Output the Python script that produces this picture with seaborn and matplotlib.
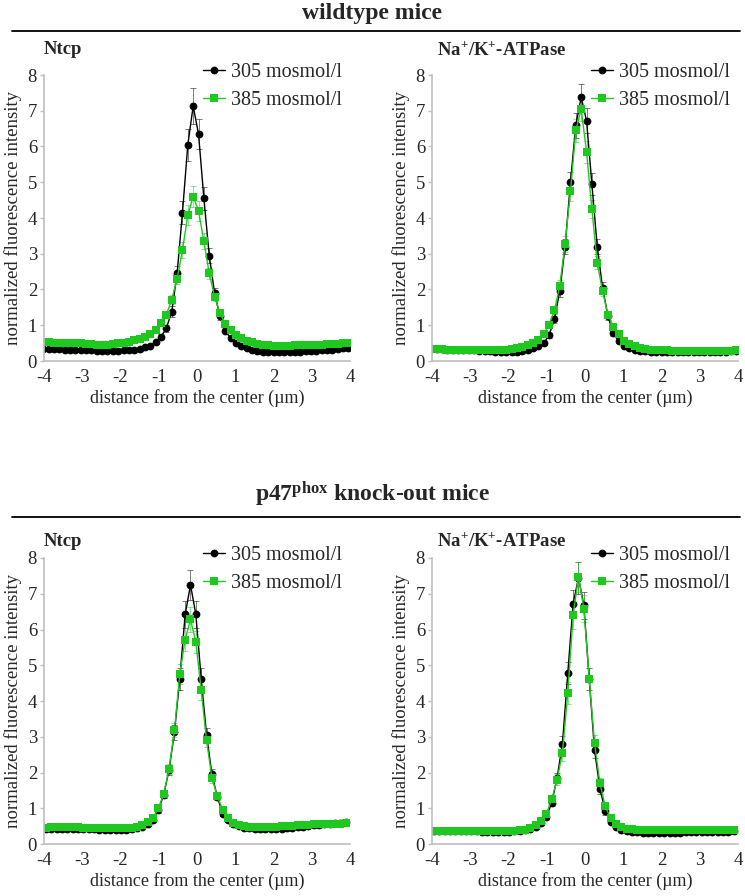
import matplotlib
matplotlib.use("Agg")
import matplotlib.pyplot as plt
import pandas as pd
import seaborn as sns
from matplotlib.lines import Line2D

# ---- data ----
CONDITIONS = ["305 mosmol/l", "385 mosmol/l"]

X_TOP = [-4.02, -3.88, -3.74, -3.60, -3.46, -3.32, -3.18, -3.04, -2.90, -2.76,
         -2.62, -2.48, -2.34, -2.20, -2.06, -1.92, -1.78, -1.64, -1.50, -1.36,
         -1.22, -1.08, -0.94, -0.80, -0.66, -0.52, -0.38, -0.24, -0.10, 0.04,
         0.18, 0.32, 0.46, 0.60, 0.74, 0.88, 1.02, 1.16, 1.30, 1.44,
         1.58, 1.72, 1.86, 2.00, 2.14, 2.28, 2.42, 2.56, 2.70, 2.84,
         2.98, 3.12, 3.26, 3.40, 3.54, 3.68, 3.82, 3.96]

X_BOTTOM = [-3.95, -3.81, -3.67, -3.53, -3.39, -3.25, -3.11, -2.97, -2.83, -2.69,
            -2.55, -2.41, -2.27, -2.13, -1.99, -1.85, -1.71, -1.57, -1.43, -1.29,
            -1.15, -1.01, -0.87, -0.73, -0.59, -0.45, -0.31, -0.17, -0.03, 0.11,
            0.25, 0.39, 0.53, 0.67, 0.81, 0.95, 1.09, 1.23, 1.37, 1.51,
            1.65, 1.79, 1.93, 2.07, 2.21, 2.35, 2.49, 2.63, 2.77, 2.91,
            3.05, 3.19, 3.33, 3.47, 3.61, 3.75, 3.89]

# wildtype, Ntcp
wt_ntcp_305 = [0.34, 0.34, 0.33, 0.33, 0.32, 0.32, 0.31, 0.31, 0.30, 0.30,
               0.29, 0.29, 0.28, 0.29, 0.29, 0.30, 0.31, 0.32, 0.34, 0.38,
               0.43, 0.52, 0.68, 0.92, 1.38, 2.45, 4.15, 6.05, 7.13, 6.35,
               4.55, 2.95, 1.90, 1.25, 0.85, 0.63, 0.50, 0.41, 0.35, 0.31,
               0.28, 0.26, 0.25, 0.24, 0.24, 0.24, 0.25, 0.25, 0.26, 0.27,
               0.28, 0.29, 0.30, 0.31, 0.32, 0.33, 0.35, 0.37]
wt_ntcp_305_err = [0.03, 0.03, 0.03, 0.03, 0.03, 0.03, 0.03, 0.03, 0.03, 0.03,
                   0.03, 0.03, 0.03, 0.03, 0.03, 0.03, 0.03, 0.03, 0.03, 0.04,
                   0.04, 0.05, 0.07, 0.10, 0.15, 0.22, 0.32, 0.45, 0.50, 0.42,
                   0.32, 0.22, 0.14, 0.09, 0.06, 0.05, 0.04, 0.03, 0.03, 0.03,
                   0.03, 0.03, 0.03, 0.03, 0.03, 0.03, 0.03, 0.03, 0.03, 0.03,
                   0.03, 0.03, 0.03, 0.03, 0.03, 0.03, 0.03, 0.03]
wt_ntcp_385 = [0.52, 0.52, 0.51, 0.51, 0.50, 0.50, 0.49, 0.49, 0.48, 0.47,
               0.46, 0.46, 0.46, 0.47, 0.49, 0.51, 0.54, 0.58, 0.62, 0.68,
               0.76, 0.88, 1.05, 1.30, 1.72, 2.30, 3.10, 4.08, 4.60, 4.20,
               3.35, 2.45, 1.80, 1.34, 1.03, 0.86, 0.74, 0.64, 0.57, 0.52,
               0.48, 0.45, 0.44, 0.43, 0.43, 0.43, 0.43, 0.44, 0.44, 0.45,
               0.45, 0.46, 0.46, 0.47, 0.47, 0.48, 0.49, 0.50]
wt_ntcp_385_err = [0.03, 0.03, 0.03, 0.03, 0.03, 0.03, 0.03, 0.03, 0.03, 0.03,
                   0.03, 0.03, 0.03, 0.03, 0.03, 0.03, 0.03, 0.03, 0.04, 0.04,
                   0.05, 0.06, 0.07, 0.09, 0.12, 0.16, 0.22, 0.28, 0.30, 0.28,
                   0.22, 0.16, 0.12, 0.09, 0.07, 0.05, 0.04, 0.04, 0.03, 0.03,
                   0.03, 0.03, 0.03, 0.03, 0.03, 0.03, 0.03, 0.03, 0.03, 0.03,
                   0.03, 0.03, 0.03, 0.03, 0.03, 0.03, 0.03, 0.03]

# wildtype, Na+/K+-ATPase
wt_atp_305 = [0.33, 0.34, 0.33, 0.32, 0.32, 0.31, 0.31, 0.30, 0.30, 0.29,
              0.28, 0.27, 0.26, 0.25, 0.25, 0.25, 0.26, 0.28, 0.31, 0.35,
              0.41, 0.50, 0.72, 1.17, 1.95, 3.20, 5.00, 6.60, 7.38, 6.72,
              4.95, 3.20, 2.05, 1.25, 0.78, 0.55, 0.43, 0.36, 0.32, 0.29,
              0.27, 0.25, 0.24, 0.24, 0.24, 0.24, 0.24, 0.24, 0.24, 0.25,
              0.25, 0.25, 0.25, 0.26, 0.26, 0.26, 0.27, 0.27]
wt_atp_305_err = [0.03, 0.03, 0.03, 0.03, 0.03, 0.03, 0.03, 0.03, 0.03, 0.03,
                  0.03, 0.03, 0.03, 0.03, 0.03, 0.03, 0.03, 0.03, 0.03, 0.03,
                  0.04, 0.05, 0.07, 0.10, 0.16, 0.22, 0.30, 0.35, 0.38, 0.35,
                  0.30, 0.22, 0.15, 0.10, 0.07, 0.05, 0.04, 0.03, 0.03, 0.03,
                  0.03, 0.03, 0.03, 0.03, 0.03, 0.03, 0.03, 0.03, 0.03, 0.03,
                  0.03, 0.03, 0.03, 0.03, 0.03, 0.03, 0.03, 0.03]
wt_atp_385 = [0.33, 0.33, 0.33, 0.32, 0.32, 0.32, 0.31, 0.31, 0.31, 0.30,
              0.30, 0.30, 0.30, 0.31, 0.32, 0.33, 0.36, 0.39, 0.44, 0.50,
              0.60, 0.76, 1.00, 1.42, 2.10, 3.28, 4.75, 6.45, 7.05, 5.85,
              4.25, 2.75, 1.95, 1.30, 0.96, 0.76, 0.56, 0.47, 0.41, 0.37,
              0.34, 0.32, 0.31, 0.30, 0.30, 0.29, 0.29, 0.29, 0.29, 0.29,
              0.29, 0.29, 0.29, 0.29, 0.29, 0.29, 0.29, 0.30]
wt_atp_385_err = [0.03, 0.03, 0.03, 0.03, 0.03, 0.03, 0.03, 0.03, 0.03, 0.03,
                  0.03, 0.03, 0.03, 0.03, 0.03, 0.03, 0.03, 0.03, 0.03, 0.04,
                  0.05, 0.06, 0.08, 0.11, 0.16, 0.22, 0.28, 0.32, 0.35, 0.30,
                  0.25, 0.18, 0.13, 0.09, 0.07, 0.05, 0.04, 0.03, 0.03, 0.03,
                  0.03, 0.03, 0.03, 0.03, 0.03, 0.03, 0.03, 0.03, 0.03, 0.03,
                  0.03, 0.03, 0.03, 0.03, 0.03, 0.03, 0.03, 0.03]

# p47phox knock-out, Ntcp
ko_ntcp_305 = [0.42, 0.42, 0.42, 0.43, 0.43, 0.43, 0.43, 0.43, 0.42, 0.41,
               0.40, 0.40, 0.40, 0.40, 0.40, 0.40, 0.41, 0.44, 0.48, 0.55,
               0.66, 0.95, 1.38, 2.08, 3.12, 4.62, 6.42, 7.25, 6.42, 4.62,
               3.05, 1.95, 1.32, 0.85, 0.66, 0.55, 0.49, 0.46, 0.44, 0.42,
               0.41, 0.41, 0.41, 0.42, 0.43, 0.44, 0.45, 0.47, 0.48, 0.50,
               0.52, 0.54, 0.55, 0.57, 0.58, 0.60, 0.61]
ko_ntcp_305_err = [0.03, 0.03, 0.03, 0.03, 0.03, 0.03, 0.03, 0.03, 0.03, 0.03,
                   0.03, 0.03, 0.03, 0.03, 0.03, 0.03, 0.03, 0.03, 0.04, 0.04,
                   0.05, 0.07, 0.10, 0.14, 0.20, 0.30, 0.38, 0.42, 0.38, 0.30,
                   0.20, 0.14, 0.10, 0.07, 0.05, 0.04, 0.04, 0.03, 0.03, 0.03,
                   0.03, 0.03, 0.03, 0.03, 0.03, 0.03, 0.03, 0.03, 0.03, 0.03,
                   0.03, 0.03, 0.03, 0.03, 0.03, 0.03, 0.03]
ko_ntcp_385 = [0.46, 0.47, 0.47, 0.47, 0.47, 0.47, 0.47, 0.46, 0.46, 0.45,
               0.45, 0.45, 0.45, 0.45, 0.45, 0.45, 0.46, 0.48, 0.53, 0.61,
               0.72, 1.00, 1.40, 2.10, 3.18, 4.75, 5.72, 6.28, 5.65, 4.30,
               2.90, 1.85, 1.35, 0.95, 0.74, 0.60, 0.53, 0.50, 0.48, 0.47,
               0.47, 0.47, 0.47, 0.48, 0.49, 0.50, 0.51, 0.52, 0.53, 0.54,
               0.55, 0.55, 0.56, 0.56, 0.57, 0.57, 0.58]
ko_ntcp_385_err = [0.03, 0.03, 0.03, 0.03, 0.03, 0.03, 0.03, 0.03, 0.03, 0.03,
                   0.03, 0.03, 0.03, 0.03, 0.03, 0.03, 0.03, 0.03, 0.04, 0.04,
                   0.05, 0.07, 0.10, 0.14, 0.20, 0.28, 0.32, 0.35, 0.32, 0.28,
                   0.20, 0.14, 0.10, 0.07, 0.05, 0.04, 0.04, 0.03, 0.03, 0.03,
                   0.03, 0.03, 0.03, 0.03, 0.03, 0.03, 0.03, 0.03, 0.03, 0.03,
                   0.03, 0.03, 0.03, 0.03, 0.03, 0.03, 0.03]

# p47phox knock-out, Na+/K+-ATPase
ko_atp_305 = [0.36, 0.36, 0.36, 0.36, 0.35, 0.35, 0.35, 0.35, 0.35, 0.34,
              0.34, 0.34, 0.34, 0.34, 0.34, 0.35, 0.36, 0.38, 0.42, 0.48,
              0.58, 0.75, 1.15, 1.85, 2.80, 4.78, 6.72, 7.45, 6.68, 4.62,
              2.62, 1.55, 0.92, 0.62, 0.47, 0.40, 0.36, 0.34, 0.33, 0.32,
              0.32, 0.32, 0.32, 0.32, 0.32, 0.32, 0.32, 0.33, 0.33, 0.33,
              0.33, 0.33, 0.34, 0.34, 0.34, 0.34, 0.35]
ko_atp_305_err = [0.03, 0.03, 0.03, 0.03, 0.03, 0.03, 0.03, 0.03, 0.03, 0.03,
                  0.03, 0.03, 0.03, 0.03, 0.03, 0.03, 0.03, 0.03, 0.03, 0.04,
                  0.05, 0.07, 0.10, 0.15, 0.22, 0.30, 0.38, 0.45, 0.38, 0.30,
                  0.22, 0.15, 0.10, 0.06, 0.04, 0.03, 0.03, 0.03, 0.03, 0.03,
                  0.03, 0.03, 0.03, 0.03, 0.03, 0.03, 0.03, 0.03, 0.03, 0.03,
                  0.03, 0.03, 0.03, 0.03, 0.03, 0.03, 0.03]
ko_atp_385 = [0.37, 0.37, 0.37, 0.37, 0.37, 0.37, 0.36, 0.36, 0.36, 0.36,
              0.36, 0.36, 0.36, 0.36, 0.36, 0.37, 0.38, 0.40, 0.45, 0.52,
              0.64, 0.85, 1.25, 1.80, 2.55, 4.22, 6.40, 7.48, 6.58, 4.62,
              2.82, 1.70, 1.05, 0.72, 0.55, 0.47, 0.43, 0.41, 0.40, 0.39,
              0.38, 0.38, 0.38, 0.38, 0.38, 0.38, 0.38, 0.38, 0.38, 0.38,
              0.38, 0.38, 0.38, 0.38, 0.38, 0.38, 0.38]
ko_atp_385_err = [0.03, 0.03, 0.03, 0.03, 0.03, 0.03, 0.03, 0.03, 0.03, 0.03,
                  0.03, 0.03, 0.03, 0.03, 0.03, 0.03, 0.03, 0.03, 0.03, 0.04,
                  0.05, 0.07, 0.10, 0.15, 0.22, 0.30, 0.38, 0.42, 0.38, 0.30,
                  0.22, 0.15, 0.10, 0.06, 0.04, 0.03, 0.03, 0.03, 0.03, 0.03,
                  0.03, 0.03, 0.03, 0.03, 0.03, 0.03, 0.03, 0.03, 0.03, 0.03,
                  0.03, 0.03, 0.03, 0.03, 0.03, 0.03, 0.03]

PALETTE = {"305 mosmol/l": "#000000", "385 mosmol/l": "#1ec81e"}
MARKERS = {"305 mosmol/l": "o", "385 mosmol/l": "s"}
AXIS_GREY = "#bfbfbf"

# ---- style ----
sns.set_style("white")
plt.rcParams["font.family"] = ["Liberation Serif", "DejaVu Serif"]
plt.rcParams["mathtext.fontset"] = "custom"
plt.rcParams["mathtext.rm"] = "Liberation Serif"
plt.rcParams["mathtext.bf"] = "Liberation Serif:bold"
plt.rcParams["mathtext.default"] = "regular"
plt.rcParams["axes.unicode_minus"] = False


def plot_profile(ax, x, y305, e305, y385, e385, title, title_x, title_y):
    """draw one intensity profile panel (two osmolarities)"""
    df = pd.concat([
        pd.DataFrame({"x": x, "y": y305, "err": e305, "cond": CONDITIONS[0]}),
        pd.DataFrame({"x": x, "y": y385, "err": e385, "cond": CONDITIONS[1]}),
    ], ignore_index=True)

    for cond in CONDITIONS:
        sub = df[df["cond"] == cond]
        ax.errorbar(sub["x"], sub["y"], yerr=sub["err"], fmt="none",
                    ecolor=PALETTE[cond], elinewidth=0.6, capsize=2.2,
                    capthick=0.6, alpha=0.6, zorder=1)

    sns.lineplot(data=df, x="x", y="y", hue="cond", style="cond",
                 hue_order=CONDITIONS, style_order=CONDITIONS,
                 palette=PALETTE, markers=MARKERS, dashes=False,
                 linewidth=1.0, markersize=5.6, markeredgewidth=0,
                 ax=ax, zorder=2)

    handles, labels = ax.get_legend_handles_labels()
    ax.legend(handles, labels, loc="upper right", bbox_to_anchor=(1.0, 1.07),
              frameon=False, fontsize=14.5, handlelength=1.1,
              handletextpad=0.3, labelspacing=0.45, borderaxespad=0)

    ax.set_xlim(-4, 4)
    ax.set_ylim(0, 8)
    ax.set_xticks(range(-4, 5))
    ax.set_yticks(range(0, 9))
    ax.set_xlabel("distance from the center (µm)", fontsize=13, labelpad=2)
    ax.set_ylabel("normalized fluorescence intensity", fontsize=13.5, labelpad=4)
    ax.tick_params(axis="both", labelsize=13.5)
    ax.tick_params(axis="x", length=0, pad=6)
    ax.tick_params(axis="y", length=3, color=AXIS_GREY, width=1, left=True, pad=2)
    for side in ["top", "right"]:
        ax.spines[side].set_visible(False)
    for side in ["left", "bottom"]:
        ax.spines[side].set_color(AXIS_GREY)
        ax.spines[side].set_linewidth(1.2)

    fig.text(title_x, title_y, title, fontsize=13.5, fontweight="bold",
             ha="left", va="center")


W, H = 745, 896
fig = plt.figure(figsize=(W / 100, H / 100), dpi=100)

ax_wt_ntcp = fig.add_axes([44 / W, 1 - 361 / H, 306 / W, 286 / H])
ax_wt_atp = fig.add_axes([432 / W, 1 - 361 / H, 306 / W, 286 / H])
ax_ko_ntcp = fig.add_axes([44 / W, 1 - 844 / H, 306 / W, 286 / H])
ax_ko_atp = fig.add_axes([432 / W, 1 - 844 / H, 306 / W, 286 / H])

plot_profile(ax_wt_ntcp, X_TOP, wt_ntcp_305, wt_ntcp_305_err,
             wt_ntcp_385, wt_ntcp_385_err, "Ntcp", 44 / W, 1 - 50 / H)
plot_profile(ax_wt_atp, X_TOP, wt_atp_305, wt_atp_305_err,
             wt_atp_385, wt_atp_385_err, r"Na$^{+}$/K$^{+}$-ATPase", 437 / W, 1 - 50 / H)
plot_profile(ax_ko_ntcp, X_BOTTOM, ko_ntcp_305, ko_ntcp_305_err,
             ko_ntcp_385, ko_ntcp_385_err, "Ntcp", 44 / W, 1 - 541 / H)
plot_profile(ax_ko_atp, X_BOTTOM, ko_atp_305, ko_atp_305_err,
             ko_atp_385, ko_atp_385_err, r"Na$^{+}$/K$^{+}$-ATPase", 437 / W, 1 - 541 / H)

# group headers with rule underneath
fig.text(0.5, 1 - 13 / H, "wildtype mice", fontsize=17, fontweight="bold",
         ha="center", va="center")
fig.add_artist(Line2D([12 / W, 740 / W], [1 - 31 / H] * 2, color="black", lw=1.3))
fig.text(0.5, 1 - 494 / H, r"p47$^{phox}$ knock-out mice", fontsize=17,
         fontweight="bold", ha="center", va="center")
fig.add_artist(Line2D([12 / W, 740 / W], [1 - 517 / H] * 2, color="black", lw=1.3))

fig.savefig("out.png", dpi=100)
